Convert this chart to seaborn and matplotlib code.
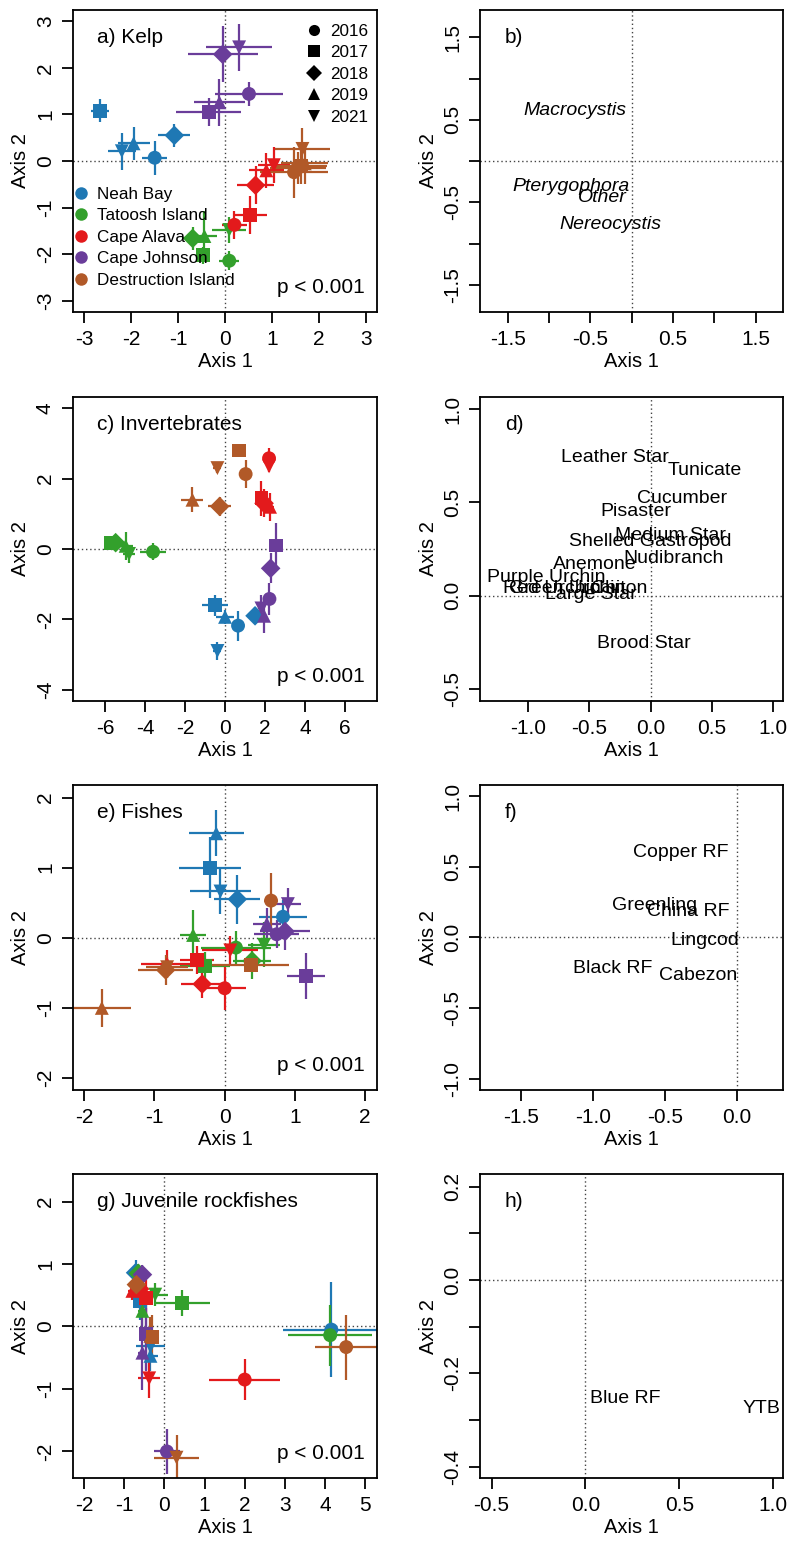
import numpy as np
import pandas as pd
import seaborn as sns
import matplotlib.pyplot as plt
from matplotlib.lines import Line2D

sns.set_style('ticks', {'axes.edgecolor': 'black', 'xtick.color': 'black', 'ytick.color': 'black',
                        'text.color': 'black', 'axes.labelcolor': 'black'})
plt.rcParams['font.family'] = ['Liberation Sans', 'DejaVu Sans']
plt.rcParams['axes.unicode_minus'] = False
plt.rcParams['axes.linewidth'] = 1.3
plt.rcParams['xtick.major.size'] = 8
plt.rcParams['ytick.major.size'] = 8
plt.rcParams['xtick.major.width'] = 1.3
plt.rcParams['ytick.major.width'] = 1.3
plt.rcParams['xtick.major.pad'] = 5
plt.rcParams['ytick.major.pad'] = 5
plt.rcParams['xtick.labelsize'] = 15
plt.rcParams['ytick.labelsize'] = 15

sites = ['Neah Bay', 'Tatoosh Island', 'Cape Alava', 'Cape Johnson', 'Destruction Island']
years = ['2016', '2017', '2018', '2019', '2021']
site_colors = ['#1F78B4', '#33A02C', '#E31A1C', '#6A3D9A', '#B15928']
year_markers = ['o', 's', 'D', '^', 'v']

# site scores, site-major order (each site: 2016, 2017, 2018, 2019, 2021)
kelp_x = [-1.50, -2.66, -1.08, -1.95, -2.20,
          0.09, -0.47, -0.69, -0.44, 0.09,
          0.20, 0.53, 0.65, 0.88, 1.04,
          0.51, -0.35, -0.05, -0.12, 0.30,
          1.47, 1.62, 1.55, 1.70, 1.65]
kelp_y = [0.07, 1.08, 0.55, 0.38, 0.21,
          -2.14, -2.02, -1.66, -1.61, -1.48,
          -1.37, -1.16, -0.52, -0.20, -0.09,
          1.44, 1.06, 2.29, 1.26, 2.44,
          -0.24, -0.10, -0.15, -0.05, 0.26]
kelp_xse = [0.26, 0.19, 0.34, 0.34, 0.30,
            0.21, 0.12, 0.23, 0.27, 0.36,
            0.27, 0.36, 0.39, 0.37, 0.34,
            0.73, 0.70, 0.75, 0.55, 0.70,
            0.73, 0.55, 0.60, 0.50, 0.59]
kelp_yse = [0.37, 0.25, 0.24, 0.35, 0.40,
            0.20, 0.18, 0.25, 0.53, 0.28,
            0.30, 0.41, 0.41, 0.37, 0.39,
            0.25, 0.30, 0.60, 0.50, 0.50,
            0.55, 0.40, 0.35, 0.45, 0.45]

inv_x = [0.65, -0.50, 1.50, 0.00, -0.38,
         -3.60, -5.72, -5.47, -4.97, -4.80,
         2.20, 1.82, 1.95, 2.25, 2.20,
         2.22, 2.55, 2.28, 1.95, 1.82,
         1.03, 0.70, -0.27, -1.63, -0.38]
inv_y = [-2.18, -1.60, -1.90, -1.93, -2.90,
         -0.08, 0.16, 0.18, 0.09, -0.14,
         2.58, 1.44, 1.30, 1.20, 2.35,
         -1.42, 0.10, -0.55, -1.90, -1.69,
         2.13, 2.80, 1.21, 1.40, 2.30]
inv_xse = [0.15, 0.63, 0.30, 0.45, 0.20,
           0.63, 0.30, 0.30, 0.35, 0.30,
           0.10, 0.15, 0.15, 0.20, 0.10,
           0.10, 0.10, 0.10, 0.15, 0.15,
           0.10, 0.10, 0.58, 0.55, 0.20]
inv_yse = [0.43, 0.30, 0.24, 0.20, 0.26,
           0.24, 0.15, 0.20, 0.40, 0.25,
           0.28, 0.50, 0.40, 0.40, 0.15,
           0.45, 0.64, 0.43, 0.50, 0.38,
           0.40, 0.10, 0.26, 0.35, 0.15]

fish_x = [0.83, -0.21, 0.18, -0.12, -0.06,
          0.16, -0.28, 0.39, -0.45, 0.56,
          0.00, -0.39, -0.32, -0.82, 0.08,
          0.74, 1.16, 0.86, 0.60, 0.90,
          0.66, 0.37, -0.84, -1.75, -0.82]
fish_y = [0.30, 1.00, 0.55, 1.49, 0.66,
          -0.14, -0.40, -0.33, 0.04, -0.10,
          -0.72, -0.32, -0.66, -0.37, -0.18,
          0.05, -0.55, 0.09, 0.20, 0.48,
          0.53, -0.39, -0.46, -1.00, -0.42]
fish_xse = [0.34, 0.44, 0.33, 0.39, 0.43,
            0.50, 0.36, 0.27, 0.19, 0.23,
            0.30, 0.24, 0.30, 0.37, 0.40,
            0.32, 0.27, 0.36, 0.20, 0.18,
            0.10, 0.55, 0.39, 0.41, 0.30]
fish_yse = [0.24, 0.43, 0.35, 0.33, 0.32,
            0.24, 0.19, 0.26, 0.35, 0.32,
            0.31, 0.20, 0.20, 0.20, 0.20,
            0.20, 0.33, 0.26, 0.22, 0.23,
            0.40, 0.08, 0.21, 0.27, 0.15]

juv_x = [4.16, -0.60, -0.72, -0.35, -0.35,
         4.13, 0.44, -0.65, -0.55, -0.23,
         2.00, -0.47, -0.62, -0.80, -0.38,
         0.06, -0.45, -0.55, -0.55, -0.45,
         4.53, -0.30, -0.70, -0.35, 0.30]
juv_y = [-0.05, 0.40, 0.86, -0.47, -0.32,
         -0.14, 0.38, 0.85, 0.25, 0.51,
         -0.85, 0.45, 0.60, 0.57, -0.83,
         -2.00, -0.12, 0.83, -0.42, -0.20,
         -0.33, -0.17, 0.67, -0.15, -2.10]
juv_xse = [1.20, 0.15, 0.12, 0.20, 0.37,
           1.04, 0.70, 0.12, 0.12, 0.31,
           0.88, 0.12, 0.15, 0.12, 0.28,
           0.33, 0.10, 0.15, 0.12, 0.12,
           0.77, 0.10, 0.22, 0.10, 0.56]
juv_yse = [0.76, 0.30, 0.20, 0.25, 0.20,
           0.49, 0.21, 0.15, 0.30, 0.18,
           0.33, 0.30, 0.25, 0.15, 0.32,
           0.36, 0.60, 0.15, 0.60, 0.50,
           0.52, 0.35, 0.33, 0.30, 0.37]

# species loadings
kelp_species = ['Macrocystis', 'Pterygophora', 'Other', 'Nereocystis']
kelp_sp_x = [-0.69, -0.73, -0.35, -0.26]
kelp_sp_y = [0.61, -0.31, -0.44, -0.765]

inv_species = ['Leather Star', 'Tunicate', 'Cucumber', 'Pisaster', 'Medium Star',
               'Shelled Gastropod', 'Nudibranch', 'Anemone', 'Purple Urchin',
               'Red Urchin', 'Green Urchin', 'Chiton', 'Large Star', 'Brood Star']
inv_sp_x = [-0.29, 0.44, 0.26, -0.12, 0.16, 0.00, 0.19, -0.46, -0.85,
            -0.81, -0.68, -0.26, -0.49, -0.055]
inv_sp_y = [0.74, 0.67, 0.52, 0.45, 0.32, 0.29, 0.20, 0.165, 0.098,
            0.036, 0.036, 0.036, 0.005, -0.258]

fish_species = ['Copper RF', 'Greenling', 'China RF', 'Lingcod', 'Black RF', 'Cabezon']
fish_sp_x = [-0.39, -0.57, -0.34, -0.22, -0.86, -0.27]
fish_sp_y = [0.60, 0.225, 0.18, -0.024, -0.223, -0.27]

juv_species = ['Blue RF', 'YTB']
juv_sp_x = [0.21, 0.94]
juv_sp_y = [-0.253, -0.275]

palette = dict(zip(sites, site_colors))
markers = dict(zip(years, year_markers))


def make_df(x, y, xse, yse):
    return pd.DataFrame({'site': np.repeat(sites, len(years)), 'year': np.tile(years, len(sites)),
                         'x': x, 'y': y, 'xse': xse, 'yse': yse})


def style_axes(ax, xlim, ylim, xticks, xlabels, yticks, ylabels):
    ax.set_xlim(xlim)
    ax.set_ylim(ylim)
    ax.set_xticks(xticks, labels=xlabels)
    ax.set_yticks(yticks, labels=ylabels, rotation=90, va='center')
    ax.axhline(0, color='#444444', lw=1, ls=(0, (1, 2)), zorder=0)
    ax.axvline(0, color='#444444', lw=1, ls=(0, (1, 2)), zorder=0)
    ax.set_xlabel('Axis 1', fontsize=14.5, labelpad=2)
    ax.set_ylabel('Axis 2', fontsize=14.5, labelpad=4)
    for s in ax.spines.values():
        s.set_visible(True)


def site_panel(ax, df, title):
    for site in sites:
        g = df[df['site'] == site]
        ax.errorbar(g['x'], g['y'], xerr=g['xse'], yerr=g['yse'], fmt='none',
                    ecolor=palette[site], elinewidth=1.6, capsize=0, zorder=2)
    sns.scatterplot(data=df, x='x', y='y', hue='site', style='year', hue_order=sites,
                    style_order=years, palette=palette, markers=markers, s=100,
                    linewidth=0, legend=False, ax=ax, zorder=3)
    ax.text(0.079, 0.91, title, transform=ax.transAxes, ha='left', va='center', fontsize=15)
    ax.text(0.96, 0.08, 'p < 0.001', transform=ax.transAxes, ha='right', va='center', fontsize=15)


def species_panel(ax, names, xs, ys, title, italic=False):
    for n, x, y in zip(names, xs, ys):
        ax.text(x, y, n, ha='center', va='center', fontsize=14,
                style='italic' if italic else 'normal')
    ax.text(0.08, 0.91, title, transform=ax.transAxes, ha='left', va='center', fontsize=15)


fig = plt.figure(figsize=(7.87, 15.46), dpi=100)
lefts = [0.0928, 0.6105]
w = [0.3863, 0.3844]
rows = [(0.7982, 0.1953), (0.5464, 0.1970), (0.2950, 0.1973), (0.0438, 0.1968)]
axes = [[fig.add_axes([lefts[c], rows[r][0], w[c], rows[r][1]]) for c in range(2)] for r in range(4)]

# a) Kelp
ax = axes[0][0]
site_panel(ax, make_df(kelp_x, kelp_y, kelp_xse, kelp_yse), 'a) Kelp')
t = list(range(-3, 4))
style_axes(ax, (-3.24, 3.24), (-3.24, 3.24), t, [str(v) for v in t], t, [str(v) for v in t])
site_handles = [Line2D([], [], marker='o', ls='', color=c, markersize=9, markeredgewidth=0)
                for c in site_colors]
leg1 = ax.legend(site_handles, sites, loc='lower left', bbox_to_anchor=(0.005, 0.08),
                 frameon=False, fontsize=12.3, handlelength=0.8, handletextpad=0.5,
                 labelspacing=0.38, borderaxespad=0, borderpad=0)
ax.add_artist(leg1)
year_handles = [Line2D([], [], marker=m, ls='', color='black', markersize=8, markeredgewidth=0)
                for m in year_markers]
ax.legend(year_handles, years, loc='upper left', bbox_to_anchor=(0.771, 0.955),
          frameon=False, fontsize=12.3, handlelength=0.8, handletextpad=0.5,
          labelspacing=0.38, borderaxespad=0, borderpad=0)

# b)
ax = axes[0][1]
species_panel(ax, kelp_species, kelp_sp_x, kelp_sp_y, 'b)', italic=True)
t = [-1.5, -1.0, -0.5, 0.0, 0.5, 1.0, 1.5]
lab = [('%g' % v) if i % 2 == 0 else '' for i, v in enumerate(t)]
style_axes(ax, (-1.83, 1.83), (-1.83, 1.83), t, lab, t, lab)

# c) Invertebrates
ax = axes[1][0]
site_panel(ax, make_df(inv_x, inv_y, inv_xse, inv_yse), 'c) Invertebrates')
tx = list(range(-6, 7, 2))
ty = list(range(-4, 5, 2))
style_axes(ax, (-7.6, 7.6), (-4.33, 4.33), tx, [str(v) for v in tx], ty, [str(v) for v in ty])

# d)
ax = axes[1][1]
species_panel(ax, inv_species, inv_sp_x, inv_sp_y, 'd)')
tx = [-1.0, -0.5, 0.0, 0.5, 1.0]
ty = [-0.5, 0.0, 0.5, 1.0]
style_axes(ax, (-1.39, 1.08), (-0.566, 1.066), tx, ['%.1f' % v for v in tx],
           ty, ['%.1f' % v for v in ty])

# e) Fishes
ax = axes[2][0]
site_panel(ax, make_df(fish_x, fish_y, fish_xse, fish_yse), 'e) Fishes')
t = list(range(-2, 3))
style_axes(ax, (-2.16, 2.17), (-2.17, 2.18), t, [str(v) for v in t], t, [str(v) for v in t])

# f)
ax = axes[2][1]
species_panel(ax, fish_species, fish_sp_x, fish_sp_y, 'f)')
tx = [-1.5, -1.0, -0.5, 0.0]
ty = [-1.0, -0.5, 0.0, 0.5, 1.0]
style_axes(ax, (-1.78, 0.32), (-1.08, 1.08), tx, ['%.1f' % v for v in tx],
           ty, ['%.1f' % v for v in ty])

# g) Juvenile rockfishes
ax = axes[3][0]
site_panel(ax, make_df(juv_x, juv_y, juv_xse, juv_yse), 'g) Juvenile rockfishes')
tx = list(range(-2, 6))
ty = list(range(-2, 3))
style_axes(ax, (-2.28, 5.3), (-2.43, 2.44), tx, [str(v) for v in tx], ty, [str(v) for v in ty])

# h)
ax = axes[3][1]
species_panel(ax, juv_species, juv_sp_x, juv_sp_y, 'h)')
tx = [-0.5, 0.0, 0.5, 1.0]
ty = [-0.4, -0.3, -0.2, -0.1, 0.0, 0.1, 0.2]
style_axes(ax, (-0.559, 1.053), (-0.425, 0.227), tx, ['%.1f' % v for v in tx],
           ty, [('%.1f' % v) if i % 2 == 0 else '' for i, v in enumerate(ty)])

fig.savefig('out.png', dpi=100)
